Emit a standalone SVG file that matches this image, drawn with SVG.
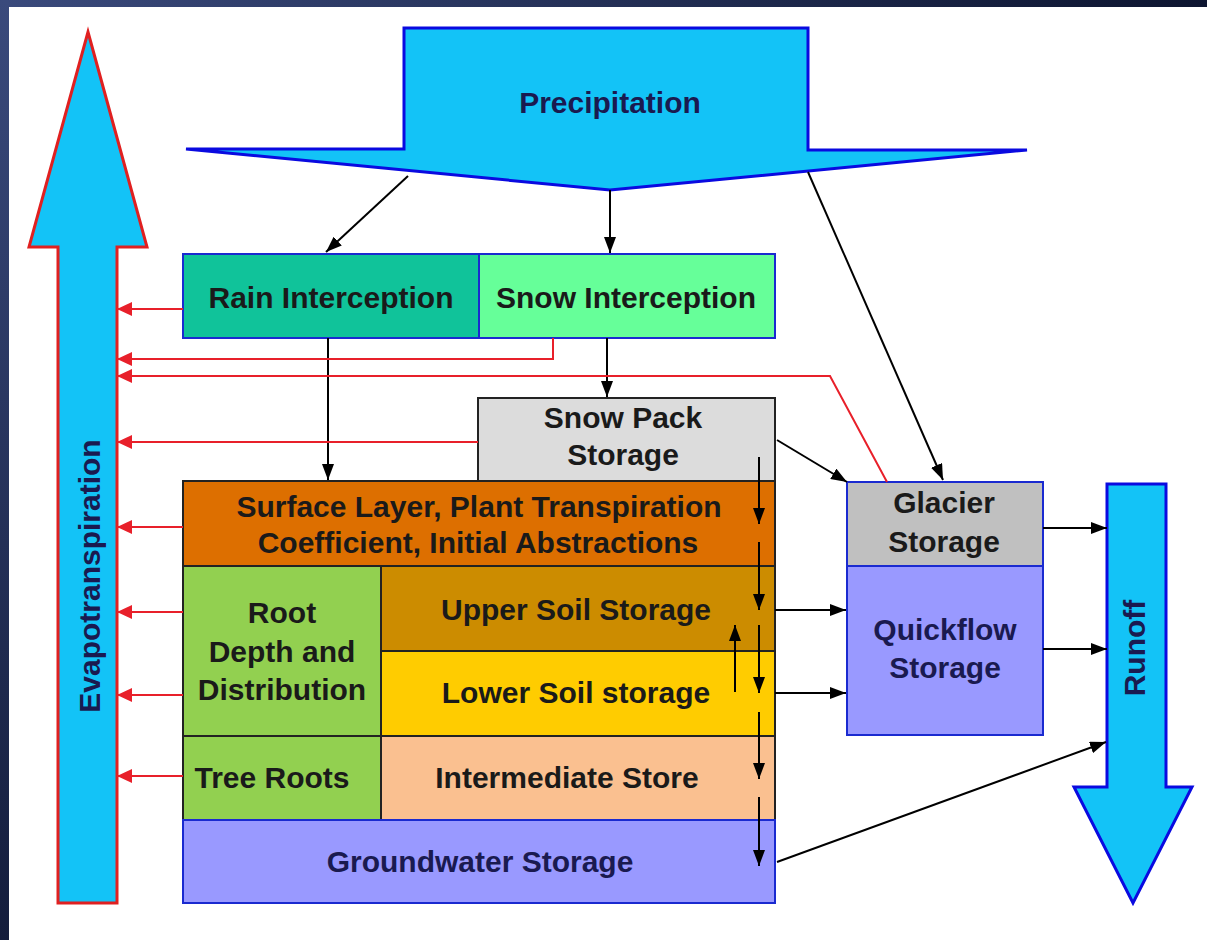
<svg xmlns="http://www.w3.org/2000/svg" width="1207" height="940" viewBox="0 0 1207 940">
<defs>
<linearGradient id="gTop" x1="0" y1="0" x2="1" y2="0">
<stop offset="0" stop-color="#3a4a7c"/><stop offset="1" stop-color="#0d1530"/>
</linearGradient>
<linearGradient id="gLeft" x1="0" y1="0" x2="0" y2="1">
<stop offset="0" stop-color="#3a4a7c"/><stop offset="1" stop-color="#141d3c"/>
</linearGradient>
<marker id="ab" markerUnits="userSpaceOnUse" markerWidth="16" markerHeight="12" refX="16" refY="6" orient="auto">
<path d="M0,0 L16,6 L0,12 z" fill="#000"/>
</marker>
<marker id="ar" markerUnits="userSpaceOnUse" markerWidth="15" markerHeight="14" refX="15" refY="7" orient="auto">
<path d="M0,0 L15,7 L0,14 z" fill="#e8202a"/>
</marker>
</defs>
<style>
text{font-family:"Liberation Sans",Arial,sans-serif;font-weight:bold;font-size:30px;text-anchor:middle;fill:#1a1a1a}
.nv{fill:#1a1a50}
.box{stroke-width:2}
.bl{stroke:#1a2ad0}
.dk{stroke:#222}
.big{fill:#13c3f7;stroke-width:3}
.k{fill:none;stroke:#000;stroke-width:2;marker-end:url(#ab)}
.r{fill:none;stroke:#e8202a;stroke-width:2;marker-end:url(#ar)}
</style>
<rect width="1207" height="940" fill="#fff"/>
<rect x="0" y="0" width="1207" height="7" fill="url(#gTop)"/>
<rect x="0" y="0" width="9" height="940" fill="url(#gLeft)"/>

<g id="evapotranspiration">
<polygon class="big" stroke="#e02020" points="88,32 147,247 117,247 117,903 58,903 58,247 29,247"/>
<text class="nv" transform="translate(100,576) rotate(-90)" font-size="31">Evapotranspiration</text>
</g>
<g id="precipitation">
<polygon class="big" stroke="#0a0ae0" points="404,28 808,28 808,150 1027,150 610,190 186,149 404,149"/>
<text class="nv" x="610" y="113">Precipitation</text>
</g>
<g id="runoff">
<polygon class="big" stroke="#0a0ae0" points="1107,484 1166,484 1166,787 1192,787 1133,903 1074,787 1107,787"/>
<text class="nv" transform="translate(1145,648) rotate(-90)">Runoff</text>
</g>

<g id="rain-interception">
<rect class="box bl" x="183" y="254" width="296" height="84" fill="#10c39a"/>
<text x="331" y="308">Rain Interception</text>
</g>
<g id="snow-interception">
<rect class="box bl" x="479" y="254" width="296" height="84" fill="#66ff99"/>
<text x="626" y="308">Snow Interception</text>
</g>
<g id="snow-pack">
<rect class="box dk" x="478" y="398" width="297" height="84" fill="#dcdcdc"/>
<text x="623" y="428">Snow Pack</text>
<text x="623" y="465">Storage</text>
</g>
<g id="surface-layer">
<rect class="box dk" x="183" y="481" width="592" height="85" fill="#dd6f00"/>
<text x="479" y="517" fill="#2a1000">Surface Layer, Plant Transpiration</text>
<text x="478" y="553" fill="#2a1000">Coefficient, Initial Abstractions</text>
</g>
<g id="root-depth">
<rect class="box dk" x="183" y="566" width="198" height="170" fill="#92d050"/>
<text x="282" y="623">Root</text>
<text x="282" y="662">Depth and</text>
<text x="282" y="700">Distribution</text>
</g>
<g id="tree-roots">
<rect class="box dk" x="183" y="736" width="198" height="84" fill="#92d050"/>
<text x="272" y="788">Tree Roots</text>
</g>
<g id="upper-soil">
<rect class="box dk" x="381" y="566" width="394" height="85" fill="#cc8c00"/>
<text x="576" y="620" fill="#2a1000">Upper Soil Storage</text>
</g>
<g id="lower-soil">
<rect class="box dk" x="381" y="651" width="394" height="85" fill="#ffcc00"/>
<text x="576" y="703" fill="#2a1000">Lower Soil storage</text>
</g>
<g id="intermediate">
<rect class="box dk" x="381" y="736" width="394" height="84" fill="#fac090"/>
<text x="567" y="788">Intermediate Store</text>
</g>
<g id="groundwater">
<rect class="box bl" x="183" y="820" width="592" height="83" fill="#9999ff"/>
<text class="nv" x="480" y="872">Groundwater Storage</text>
</g>
<g id="glacier">
<rect class="box bl" x="847" y="482" width="196" height="84" fill="#c0c0c0"/>
<text x="944" y="513">Glacier</text>
<text x="944" y="552">Storage</text>
</g>
<g id="quickflow">
<rect class="box bl" x="847" y="566" width="196" height="169" fill="#9999ff"/>
<text class="nv" x="945" y="640">Quickflow</text>
<text class="nv" x="945" y="678">Storage</text>
</g>

<g id="connectors">
<path class="k" d="M408,176 L326,252"/>
<path class="k" d="M610,190 V253"/>
<path class="k" d="M808,172 L943,480"/>
<path class="k" d="M607,338 V397"/>
<path class="k" d="M328,338 V480"/>
<path class="k" d="M777,440 L847,482"/>
<path class="k" d="M759,457 V524"/>
<path class="k" d="M759,542 V610"/>
<path class="k" d="M759,625 V693"/>
<path class="k" d="M759,712 V779"/>
<path class="k" d="M759,797 V866"/>
<path class="k" d="M735,692 V625"/>
<path class="k" d="M775,610 H846"/>
<path class="k" d="M775,693 H846"/>
<path class="k" d="M1043,528 H1107"/>
<path class="k" d="M1043,649 H1107"/>
<path class="k" d="M777,862 L1106,742"/>
<path class="r" d="M183,309 H117"/>
<path class="r" d="M553,338 V359 H117"/>
<path class="r" d="M887,482 L830,376 H117"/>
<path class="r" d="M478,442 H117"/>
<path class="r" d="M183,527 H117"/>
<path class="r" d="M183,612 H117"/>
<path class="r" d="M183,695 H117"/>
<path class="r" d="M183,776 H117"/>
</g>
</svg>
